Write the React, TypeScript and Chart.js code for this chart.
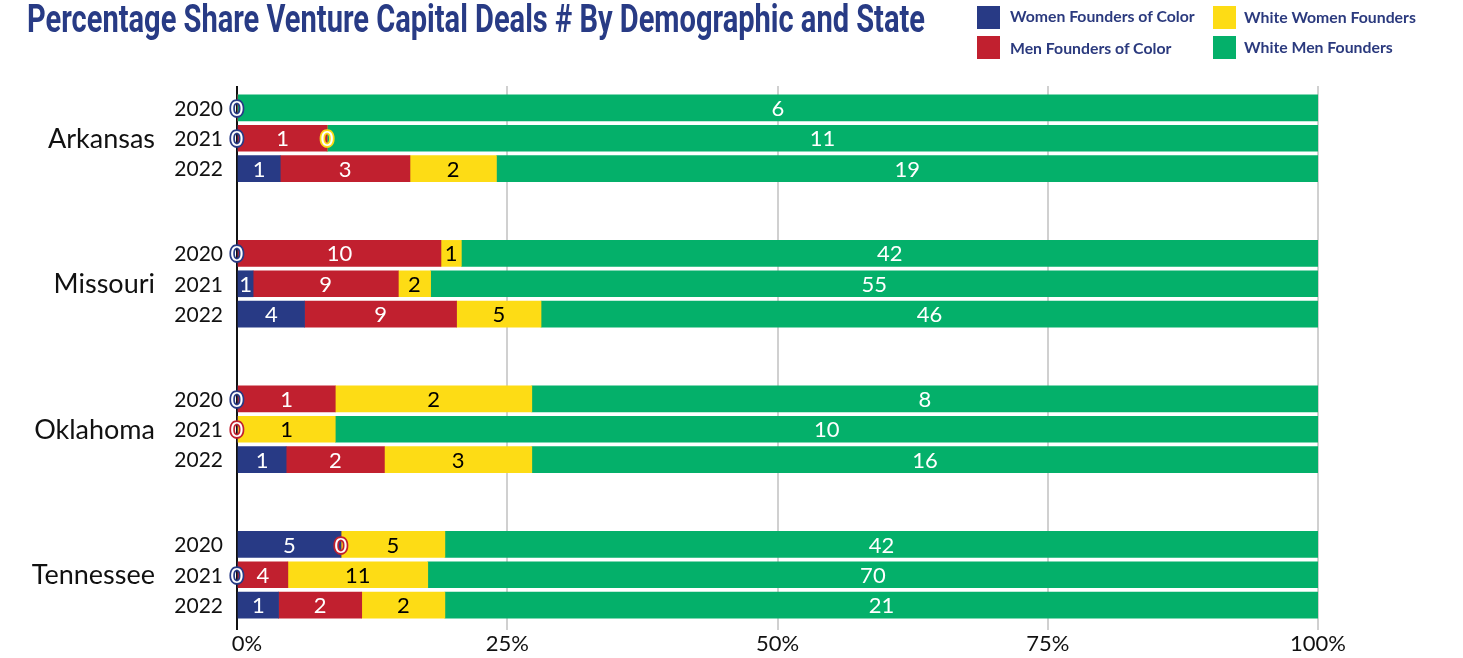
import React, { useEffect, useRef } from "react";
import { Chart, registerables } from "chart.js";

Chart.register(...registerables);

const TITLE = "Percentage Share Venture Capital Deals # By Demographic and State";
const states = ["Arkansas", "Missouri", "Oklahoma", "Tennessee"];
const years = ["2020", "2021", "2022"];
const seriesNames = [
  "Women Founders of Color",
  "Men Founders of Color",
  "White Women Founders",
  "White Men Founders",
];
// rows: Arkansas 2020..2022, Missouri, Oklahoma, Tennessee (null = no data)
const womenOfColor = [0, 0, 1, 0, 1, 4, 0, null, 1, 5, 0, 1];
const menOfColor = [null, 1, 3, 10, 9, 9, 1, 0, 2, 0, 4, 2];
const whiteWomen = [null, 0, 2, 1, 2, 5, 2, 1, 3, 5, 11, 2];
const whiteMen = [6, 11, 19, 42, 55, 46, 8, 10, 16, 42, 70, 21];
const xTicks = [0, 25, 50, 75, 100];

const colors = ["#283a85", "#c1202f", "#fddc15", "#04b06a"];
const labelColors = ["#ffffff", "#ffffff", "#000000", "#ffffff"];
const GROUP_STEP = 4.79;
const FONT = "Lato, 'Open Sans', sans-serif";

export default function App() {
  const canvasRef = useRef<HTMLCanvasElement | null>(null);
  const titleRef = useRef<HTMLSpanElement | null>(null);

  useEffect(() => {
    const fit = () => {
      const el = titleRef.current;
      if (!el) return;
      el.style.transform = "none";
      const w = el.getBoundingClientRect().width;
      if (w > 0) el.style.transform = `scaleX(${898 / w})`;
    };
    fit();
    if ((document as any).fonts) (document as any).fonts.ready.then(fit);
  }, []);

  useEffect(() => {
    const canvas = canvasRef.current;
    if (!canvas) return;
    const allCounts = [womenOfColor, menOfColor, whiteWomen, whiteMen];
    const nRows = whiteMen.length;
    const totals = Array.from({ length: nRows }, (_, k) =>
      allCounts.reduce((s, arr) => s + (arr[k] ?? 0), 0)
    );
    const rowPos = Array.from({ length: nRows }, (_, k) => Math.floor(k / 3) * GROUP_STEP + (k % 3));

    const labelPlugin = {
      id: "segLabels",
      afterDatasetsDraw(chart: any) {
        const ctx = chart.ctx;
        ctx.save();
        ctx.font = `22px ${FONT}`;
        ctx.textAlign = "center";
        ctx.textBaseline = "middle";
        allCounts.forEach((arr, i) => {
          const meta = chart.getDatasetMeta(i);
          arr.forEach((v, k) => {
            if (v === null || v === undefined) return;
            const el = meta.data[k];
            if (!el) return;
            const cx = v === 0 ? el.x : (el.x + el.base) / 2;
            const cy = el.y + 1;
            if (v === 0) {
              ctx.lineWidth = 3.5;
              ctx.strokeStyle = colors[i];
              ctx.lineJoin = "round";
              ctx.strokeText("0", cx, cy);
              ctx.fillStyle = "#ffffff";
              ctx.fillText("0", cx, cy);
            } else {
              ctx.fillStyle = labelColors[i];
              ctx.fillText(String(v), cx, cy);
            }
          });
        });
        ctx.restore();
      },
      afterDraw(chart: any) {
        const ctx = chart.ctx;
        const ys = chart.scales.y;
        const xs = chart.scales.x;
        ctx.save();
        ctx.fillStyle = "#111111";
        ctx.textAlign = "right";
        ctx.textBaseline = "middle";
        ctx.font = `21px ${FONT}`;
        for (let k = 0; k < nRows; k++) {
          ctx.fillText(years[k % 3], 223, ys.getPixelForValue(rowPos[k]) + 1);
        }
        ctx.font = `27px ${FONT}`;
        states.forEach((s, g) => {
          ctx.fillText(s, 155, ys.getPixelForValue(rowPos[g * 3 + 1]) + 1);
        });
        // x tick labels
        ctx.font = `22px ${FONT}`;
        ctx.textAlign = "center";
        xTicks.forEach((v, idx) => {
          const px = xs.getPixelForValue(v) + (idx === 0 ? 10 : 0);
          ctx.fillText(`${v}%`, px, 644);
        });
        ctx.restore();
      },
    };

    const chart = new Chart(canvas, {
      type: "bar",
      data: {
        datasets: allCounts.map((arr, i) => ({
          label: seriesNames[i],
          data: arr.map((v, k) => ({ x: ((v ?? 0) / totals[k]) * 100, y: rowPos[k] })),
          backgroundColor: colors[i],
          borderWidth: 0,
          barThickness: 26,
        })),
      },
      options: {
        indexAxis: "y",
        animation: false,
        responsive: false,
        layout: { padding: { left: 237, right: 145, top: 86, bottom: 28 } },
        plugins: { legend: { display: false }, tooltip: { enabled: false }, title: { display: false } },
        scales: {
          x: {
            type: "linear",
            stacked: true,
            min: 0,
            max: 100,
            afterBuildTicks: (scale: any) => {
              scale.ticks = xTicks.map((v) => ({ value: v }));
            },
            ticks: { display: false },
            grid: {
              color: (c: any) => (c.tick && c.tick.value === 0 ? "#111111" : "#d0d0d0"),
              lineWidth: 2,
              tickLength: 6,
              drawTicks: true,
            },
            border: { display: false },
          },
          y: {
            type: "linear",
            stacked: true,
            reverse: true,
            offset: false,
            min: -0.72,
            max: 3 * GROUP_STEP + 2 + 0.62,
            display: false,
          },
        },
      },
      plugins: [labelPlugin],
    } as any);
    return () => chart.destroy();
  }, []);

  const legendItem = (i: number, left: number, top: number, dy: number) => (
    <div
      key={i}
      style={{ position: "absolute", left, top, display: "flex", alignItems: "center", height: 23 }}
    >
      <div style={{ width: 23, height: 23, background: colors[i] }} />
      <span
        style={{
          marginLeft: i < 2 ? 10 : 8,
          font: `bold 15.8px ${FONT}`,
          color: "#2b3a7e",
          whiteSpace: "nowrap",
          position: "relative",
          top: dy,
        }}
      >
        {seriesNames[i]}
      </span>
    </div>
  );

  return (
    <div style={{ position: "absolute", left: 0, top: 0, width: 1463, height: 658, background: "#fff", overflow: "hidden" }}>
      <canvas ref={canvasRef} width={1463} height={658} style={{ position: "absolute", left: 0, top: 0 }} />
      <div style={{ position: "absolute", left: 27, top: 0, height: 44 }}>
        <span
          ref={titleRef}
          style={{
            display: "inline-block",
            whiteSpace: "nowrap",
            font: "bold 39px Roboto, 'DejaVu Sans', sans-serif",
            lineHeight: "39px",
            color: "#283b85",
            transformOrigin: "left top",
          }}
        >
          {TITLE}
        </span>
      </div>
      {legendItem(0, 977, 6, -2)}
      {legendItem(1, 977, 36, 0)}
      {legendItem(2, 1213, 6, -1)}
      {legendItem(3, 1213, 36, -1)}
    </div>
  );
}
